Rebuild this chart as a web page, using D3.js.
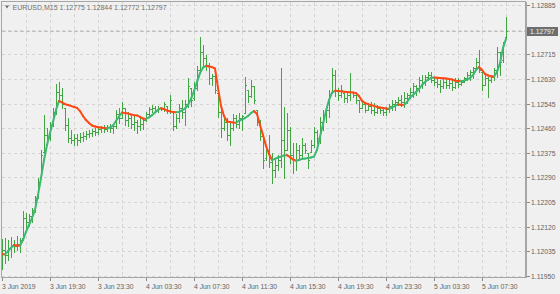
<!DOCTYPE html>
<html><head><meta charset="utf-8">
<script src="https://cdn.jsdelivr.net/npm/d3@7"></script>
<style>html,body{margin:0;padding:0;background:#f0f0f0;overflow:hidden}</style>
</head><body><svg id="c" width="560" height="294"></svg>
<script>
const symbol = "EURUSD,M15";

const high = [1.12078,1.12081,1.12074,1.12085,1.12074,1.12088,1.12081,1.12174,1.12167,1.12164,
1.12185,1.12226,1.12288,1.12385,1.12505,1.12461,1.12481,1.12530,1.12612,1.12619,
1.12599,1.12530,1.12495,1.12454,1.12440,1.12440,1.12443,1.12447,1.12450,1.12454,
1.12457,1.12461,1.12468,1.12468,1.12471,1.12471,1.12474,1.12474,1.12523,1.12530,
1.12550,1.12530,1.12516,1.12509,1.12502,1.12488,1.12495,1.12492,1.12516,1.12533,
1.12540,1.12537,1.12537,1.12533,1.12550,1.12537,1.12574,1.12516,1.12509,1.12543,
1.12557,1.12557,1.12633,1.12599,1.12619,1.12675,1.12775,1.12747,1.12712,1.12685,
1.12647,1.12668,1.12581,1.12533,1.12495,1.12495,1.12478,1.12509,1.12505,1.12512,
1.12505,1.12637,1.12592,1.12626,1.12606,1.12523,1.12488,1.12436,1.12402,1.12436,
1.12374,1.12350,1.12367,1.12668,1.12533,1.12512,1.12464,1.12409,1.12409,1.12402,
1.12426,1.12409,1.12374,1.12419,1.12464,1.12454,1.12499,1.12523,1.12530,1.12592,
1.12668,1.12661,1.12599,1.12609,1.12581,1.12585,1.12650,1.12585,1.12581,1.12557,
1.12557,1.12550,1.12547,1.12550,1.12547,1.12540,1.12533,1.12533,1.12533,1.12543,
1.12557,1.12557,1.12568,1.12574,1.12585,1.12581,1.12599,1.12616,1.12609,1.12637,
1.12643,1.12643,1.12654,1.12654,1.12637,1.12637,1.12626,1.12633,1.12630,1.12626,
1.12626,1.12633,1.12633,1.12626,1.12637,1.12654,1.12661,1.12671,1.12702,1.12730,
1.12654,1.12643,1.12637,1.12643,1.12668,1.12740,1.12723,1.12757,1.12844];

const low = [1.11974,1.11995,1.12005,1.12016,1.12033,1.12040,1.12033,1.12081,1.12116,1.12123,
1.12136,1.12171,1.12219,1.12292,1.12378,1.12412,1.12419,1.12468,1.12509,1.12550,
1.12530,1.12454,1.12412,1.12409,1.12402,1.12402,1.12412,1.12416,1.12423,1.12430,
1.12433,1.12436,1.12440,1.12447,1.12447,1.12450,1.12447,1.12443,1.12461,1.12478,
1.12495,1.12471,1.12468,1.12461,1.12454,1.12443,1.12454,1.12457,1.12485,1.12505,
1.12516,1.12516,1.12516,1.12523,1.12519,1.12512,1.12512,1.12454,1.12461,1.12481,
1.12495,1.12471,1.12533,1.12537,1.12557,1.12592,1.12650,1.12675,1.12661,1.12612,
1.12609,1.12581,1.12499,1.12430,1.12454,1.12419,1.12402,1.12454,1.12464,1.12461,
1.12454,1.12512,1.12550,1.12568,1.12547,1.12471,1.12419,1.12323,1.12350,1.12326,
1.12271,1.12292,1.12316,1.12326,1.12288,1.12385,1.12340,1.12305,1.12316,1.12350,
1.12361,1.12374,1.12323,1.12378,1.12395,1.12409,1.12409,1.12454,1.12481,1.12499,
1.12581,1.12571,1.12557,1.12568,1.12550,1.12550,1.12557,1.12568,1.12547,1.12516,
1.12530,1.12516,1.12523,1.12512,1.12505,1.12512,1.12512,1.12505,1.12505,1.12516,
1.12523,1.12523,1.12540,1.12537,1.12533,1.12547,1.12564,1.12568,1.12574,1.12585,
1.12599,1.12609,1.12626,1.12619,1.12609,1.12602,1.12585,1.12599,1.12599,1.12599,
1.12592,1.12599,1.12602,1.12609,1.12619,1.12626,1.12626,1.12633,1.12661,1.12654,
1.12592,1.12609,1.12568,1.12619,1.12626,1.12637,1.12643,1.12688,1.12772];

const open = [1.11998,1.12040,1.12022,1.12047,1.12057,1.12054,1.12060,1.12081,1.12150,1.12136,
1.12157,1.12178,1.12219,1.12292,1.12378,1.12436,1.12426,1.12471,1.12516,1.12585,
1.12574,1.12530,1.12471,1.12426,1.12419,1.12426,1.12419,1.12430,1.12433,1.12440,
1.12443,1.12450,1.12447,1.12457,1.12461,1.12457,1.12464,1.12461,1.12468,1.12509,
1.12495,1.12530,1.12488,1.12495,1.12474,1.12481,1.12468,1.12474,1.12488,1.12509,
1.12526,1.12530,1.12523,1.12530,1.12526,1.12537,1.12523,1.12516,1.12468,1.12495,
1.12530,1.12516,1.12543,1.12599,1.12564,1.12599,1.12661,1.12723,1.12702,1.12678,
1.12633,1.12640,1.12581,1.12516,1.12461,1.12481,1.12436,1.12461,1.12495,1.12474,
1.12495,1.12512,1.12592,1.12571,1.12606,1.12523,1.12481,1.12433,1.12357,1.12385,
1.12343,1.12316,1.12333,1.12350,1.12419,1.12385,1.12454,1.12367,1.12350,1.12385,
1.12367,1.12402,1.12374,1.12378,1.12402,1.12447,1.12426,1.12481,1.12505,1.12523,
1.12581,1.12643,1.12592,1.12574,1.12581,1.12564,1.12574,1.12585,1.12574,1.12557,
1.12530,1.12543,1.12523,1.12537,1.12523,1.12516,1.12530,1.12523,1.12516,1.12526,
1.12537,1.12543,1.12550,1.12557,1.12550,1.12564,1.12574,1.12585,1.12606,1.12599,
1.12626,1.12619,1.12637,1.12643,1.12626,1.12619,1.12612,1.12606,1.12619,1.12609,
1.12616,1.12602,1.12619,1.12612,1.12619,1.12633,1.12643,1.12654,1.12668,1.12688,
1.12654,1.12609,1.12633,1.12626,1.12637,1.12661,1.12723,1.12695,1.12775];

const close = [1.12040,1.12022,1.12047,1.12057,1.12054,1.12060,1.12074,1.12150,1.12136,1.12157,
1.12178,1.12219,1.12274,1.12367,1.12436,1.12426,1.12471,1.12516,1.12585,1.12574,
1.12543,1.12471,1.12426,1.12419,1.12426,1.12419,1.12430,1.12433,1.12440,1.12443,
1.12450,1.12447,1.12457,1.12461,1.12457,1.12464,1.12461,1.12468,1.12509,1.12495,
1.12530,1.12488,1.12495,1.12474,1.12481,1.12468,1.12474,1.12488,1.12509,1.12526,
1.12530,1.12523,1.12530,1.12526,1.12543,1.12523,1.12557,1.12468,1.12495,1.12530,
1.12516,1.12543,1.12606,1.12557,1.12599,1.12661,1.12723,1.12702,1.12678,1.12633,
1.12640,1.12592,1.12516,1.12461,1.12481,1.12436,1.12461,1.12495,1.12474,1.12495,
1.12502,1.12609,1.12571,1.12606,1.12557,1.12481,1.12433,1.12350,1.12385,1.12343,
1.12316,1.12333,1.12350,1.12419,1.12385,1.12454,1.12367,1.12350,1.12385,1.12367,
1.12402,1.12385,1.12350,1.12402,1.12447,1.12426,1.12481,1.12505,1.12523,1.12574,
1.12643,1.12592,1.12574,1.12592,1.12564,1.12574,1.12585,1.12574,1.12557,1.12530,
1.12543,1.12523,1.12537,1.12523,1.12516,1.12530,1.12523,1.12516,1.12526,1.12537,
1.12543,1.12550,1.12557,1.12550,1.12564,1.12574,1.12585,1.12606,1.12599,1.12626,
1.12619,1.12637,1.12643,1.12626,1.12619,1.12612,1.12606,1.12619,1.12609,1.12616,
1.12602,1.12619,1.12612,1.12619,1.12633,1.12643,1.12654,1.12668,1.12688,1.12661,
1.12609,1.12633,1.12626,1.12637,1.12661,1.12723,1.12688,1.12747,1.12797];

const maLine = [1.12026,1.12024,1.12036,1.12047,1.12057,1.12055,1.12054,1.12074,1.12102,1.12126,
1.12150,1.12178,1.12229,1.12288,1.12350,1.12402,1.12443,1.12481,1.12523,1.12554,
1.12549,1.12543,1.12540,1.12537,1.12533,1.12530,1.12519,1.12502,1.12488,1.12478,
1.12469,1.12466,1.12463,1.12462,1.12461,1.12460,1.12462,1.12469,1.12485,1.12500,
1.12514,1.12512,1.12511,1.12507,1.12505,1.12504,1.12499,1.12493,1.12492,1.12497,
1.12505,1.12514,1.12523,1.12529,1.12526,1.12521,1.12518,1.12516,1.12515,1.12516,
1.12521,1.12528,1.12540,1.12561,1.12588,1.12619,1.12650,1.12669,1.12675,1.12673,
1.12671,1.12666,1.12599,1.12537,1.12502,1.12483,1.12481,1.12480,1.12479,1.12485,
1.12490,1.12495,1.12502,1.12512,1.12519,1.12509,1.12471,1.12436,1.12399,1.12371,
1.12350,1.12354,1.12359,1.12362,1.12366,1.12367,1.12360,1.12352,1.12348,1.12350,
1.12354,1.12355,1.12357,1.12359,1.12362,1.12385,1.12430,1.12474,1.12519,1.12557,
1.12583,1.12589,1.12588,1.12587,1.12586,1.12585,1.12584,1.12583,1.12581,1.12571,
1.12554,1.12547,1.12543,1.12540,1.12537,1.12533,1.12531,1.12530,1.12528,1.12527,
1.12531,1.12537,1.12542,1.12541,1.12540,1.12550,1.12566,1.12574,1.12585,1.12595,
1.12609,1.12619,1.12628,1.12633,1.12635,1.12634,1.12633,1.12632,1.12631,1.12630,
1.12628,1.12624,1.12623,1.12622,1.12624,1.12628,1.12633,1.12643,1.12661,1.12671,
1.12661,1.12647,1.12642,1.12639,1.12638,1.12654,1.12685,1.12737,1.12768];

const yTicks = [1.11950,1.12035,1.12120,1.12205,1.12290,1.12375,1.12460,1.12545,1.12630,1.12715,1.12800,1.12885];
const yTickLabels = ["1.11950","1.12035","1.12120","1.12205","1.12290","1.12375","1.12460","1.12545","1.12630","1.12715","","1.12885"];
const xTickIndex = [0,16,32,48,64,80,96,112,128,144,160];
const xTickLabels = ["3 Jun 2019","3 Jun 19:30","3 Jun 23:30","4 Jun 03:30","4 Jun 07:30","4 Jun 11:30","4 Jun 15:30","4 Jun 19:30","4 Jun 23:30","5 Jun 03:30","5 Jun 07:30"];
const gridEvery = 8;

const svg = d3.select("#c");
const FONT = "'Liberation Sans', Arial, sans-serif";
const TXT = "#646464";
const n = close.length;
const L = 1.5, T = 1.5, R = 525.5, B = 277.5;

const x = d3.scaleLinear().domain([0, n - 1]).range([2, 506]);
const y = d3.scaleLinear().domain([yTicks[0], yTicks[yTicks.length - 1]]).range([276, 5]);
const px = v => Math.round(v) + 0.5;

svg.append("rect").attr("width", 560).attr("height", 294).attr("fill", "#f0f0f0");

const grid = svg.append("g").attr("stroke", "#d4d4d4").attr("stroke-dasharray", "3,3").attr("shape-rendering", "crispEdges");
yTicks.forEach(t => {
  grid.append("line").attr("x1", L).attr("x2", R).attr("y1", px(y(t))).attr("y2", px(y(t)));
});
d3.range(gridEvery, n, gridEvery).forEach(i => {
  grid.append("line").attr("y1", T).attr("y2", B).attr("x1", px(x(i))).attr("x2", px(x(i)));
});

// current price line
const last = n - 1;
svg.append("line").attr("x1", L).attr("x2", R)
  .attr("y1", px(y(close[last]))).attr("y2", px(y(close[last])))
  .attr("stroke", "#c2c2c2").attr("stroke-dasharray", "4,2").attr("shape-rendering", "crispEdges");

// OHLC bars
const bars = svg.append("g").attr("stroke", "#41a541").attr("stroke-width", 1).attr("shape-rendering", "crispEdges");
d3.range(n).forEach(i => {
  const c = Math.round(x(i));
  const g = bars.append("g");
  g.append("line").attr("x1", c + 0.5).attr("x2", c + 0.5)
    .attr("y1", Math.round(y(high[i]))).attr("y2", Math.round(y(low[i])) + 1);
  g.append("line").attr("x1", c - 1).attr("x2", c)
    .attr("y1", px(y(open[i]))).attr("y2", px(y(open[i])));
  g.append("line").attr("x1", c + 1).attr("x2", c + 2)
    .attr("y1", px(y(close[i]))).attr("y2", px(y(close[i])));
});

// moving average coloured by slope
const ma = svg.append("g").attr("fill", "none").attr("stroke-width", 2).attr("stroke-linecap", "round");
d3.range(1, n).forEach(i => {
  const up = maLine[i] >= maLine[i - 1];
  ma.append("line")
    .attr("x1", x(i - 1)).attr("y1", y(maLine[i - 1]))
    .attr("x2", x(i)).attr("y2", y(maLine[i]))
    .attr("stroke", up ? "#3cb873" : "#ff4814");
});

// frame
svg.append("rect").attr("x", L).attr("y", T).attr("width", R - L).attr("height", B - T)
  .attr("fill", "none").attr("stroke", "#a6a6a6").attr("shape-rendering", "crispEdges");
svg.append("line").attr("x1", R + 0.5).attr("x2", R + 0.5).attr("y1", T).attr("y2", B)
  .attr("stroke", "#a6a6a6").attr("shape-rendering", "crispEdges");

// y axis
const ya = svg.append("g");
yTicks.forEach((t, k) => {
  const yy = px(y(t));
  ya.append("line").attr("x1", R + 1).attr("x2", R + 4).attr("y1", yy).attr("y2", yy)
    .attr("stroke", "#8a8a8a").attr("shape-rendering", "crispEdges");
  if (yTickLabels[k]) {
    ya.append("text").attr("x", 531).attr("y", yy).attr("dy", "0.35em")
      .attr("font-family", FONT).attr("font-size", 6.8).attr("fill", TXT).text(yTickLabels[k]);
  }
});
// current price label
const cy = px(y(close[last]));
svg.append("rect").attr("x", 527).attr("y", cy - 4.5).attr("width", 31).attr("height", 9).attr("fill", "#6e6e6e");
svg.append("text").attr("x", 530).attr("y", cy).attr("dy", "0.35em")
  .attr("font-family", FONT).attr("font-size", 6.8).attr("fill", "#f4f4f4").text(d3.format(".5f")(close[last]));

// x axis
const xa = svg.append("g");
xTickIndex.forEach((idx, k) => {
  const xx = px(x(idx));
  xa.append("line").attr("x1", xx).attr("x2", xx).attr("y1", B).attr("y2", B + 3)
    .attr("stroke", "#8a8a8a").attr("shape-rendering", "crispEdges");
  xa.append("text").attr("x", xx - 0.5).attr("y", 288.5)
    .attr("font-family", FONT).attr("font-size", 6.8).attr("fill", TXT).text(xTickLabels[k]);
});

// header
svg.append("path").attr("d", "M5,5.5 L9,5.5 L7,8.5 Z").attr("fill", "#6a6a6a");
const f5 = d3.format(".5f");
svg.append("text").attr("x", 12.5).attr("y", 9.5)
  .attr("font-family", FONT).attr("font-size", 7).attr("fill", "#707070")
  .text(symbol + "  " + [open[last], high[last], low[last], close[last]].map(f5).join(" "));
</script>
</body></html>
